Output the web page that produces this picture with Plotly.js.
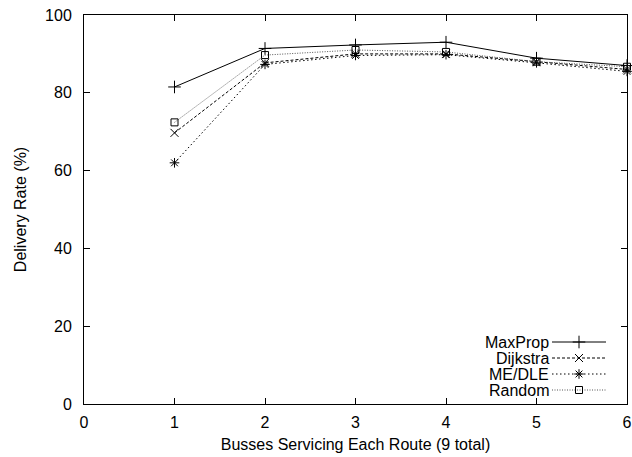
<!DOCTYPE html>
<html>
<head>
<meta charset="utf-8">
<script src="https://cdn.plot.ly/plotly-3.0.1.min.js"></script>
<style>
  html, body { margin: 0; padding: 0; background: #fff; }
  #chart { width: 632px; height: 457px; }
</style>
</head>
<body>
<div id="chart"></div>
<script>
// Busses per route (x) and delivery rate in percent for each routing scheme
const busses = [1, 2, 3, 4, 5, 6];
const seriesNames = ['MaxProp', 'Dijkstra', 'ME/DLE', 'Random'];
const maxProp  = [81.5, 91.4, 92.3, 93.0, 88.9, 87.0];
const dijkstra = [69.7, 87.7, 90.0, 90.0, 88.0, 86.0];
const meDle    = [62.0, 87.3, 89.6, 89.8, 87.7, 85.5];
const random   = [72.4, 89.7, 91.0, 90.5, 88.0, 86.7];

const FONT = 'Liberation Sans, Arial, Helvetica, sans-serif';
const styles = [
  { dash: 'solid',       color: '#000', symbol: 'cross-thin-open', size: 9 },
  { dash: '3px,2px',     color: '#000', symbol: 'x-thin-open',     size: 8 },
  { dash: '1.5px,2.5px', color: '#000', symbol: 'asterisk-open',   size: 8 },
  { dash: '1px,1.5px',   color: '#555', symbol: 'square-open',     size: 7 }
];
const values = [maxProp, dijkstra, meDle, random];
const legendIds = ['legend', 'legend2', 'legend3', 'legend4'];

const traces = values.map((ys, i) => ({
  x: busses,
  y: ys,
  type: 'scatter',
  mode: 'lines+markers',
  name: '',
  legend: legendIds[i],
  line: { color: styles[i].color, width: 1, dash: styles[i].dash },
  marker: { symbol: styles[i].symbol, size: styles[i].size, color: '#000',
            line: { color: '#000', width: 1 } },
  cliponaxis: false
}));

// Gnuplot-style key in the lower right: label on the left, line sample on the right
const plotTop = 15, plotBottom = 404, plotLeft = 84, plotRight = 627;
const keyRowsPx = [342, 358, 374, 390];
const toPaperY = py => (plotBottom - py) / (plotBottom - plotTop);
const toPaperX = px => (px - plotLeft) / (plotRight - plotLeft);

const annotations = seriesNames.map((n, i) => ({
  text: n,
  xref: 'paper', yref: 'paper',
  x: toPaperX(551), y: toPaperY(keyRowsPx[i]),
  xanchor: 'right', yanchor: 'middle',
  showarrow: false,
  font: { family: FONT, size: 16, color: '#000' }
}));

const layout = {
  width: 632, height: 457,
  margin: { l: plotLeft, r: 632 - plotRight, t: plotTop, b: 457 - plotBottom },
  paper_bgcolor: '#fff', plot_bgcolor: '#fff',
  showlegend: true,
  xaxis: {
    range: [0, 6], dtick: 1, tick0: 0,
    showgrid: false, zeroline: false,
    showline: true, linecolor: '#000', linewidth: 1, mirror: 'ticks',
    ticks: 'inside', ticklen: 6, tickcolor: '#000', tickwidth: 1,
    ticklabelstandoff: 4,
    tickfont: { family: FONT, size: 16, color: '#000' },
    title: { text: 'Busses Servicing Each Route (9 total)', standoff: 8,
             font: { family: FONT, size: 16, color: '#000' } }
  },
  yaxis: {
    range: [0, 100], dtick: 20, tick0: 0,
    showgrid: false, zeroline: false,
    showline: true, linecolor: '#000', linewidth: 1, mirror: 'ticks',
    ticks: 'inside', ticklen: 6, tickcolor: '#000', tickwidth: 1,
    ticklabelstandoff: 8,
    tickfont: { family: FONT, size: 16, color: '#000' },
    title: { text: 'Delivery Rate (%)', standoff: 14,
             font: { family: FONT, size: 16, color: '#000' } }
  },
  annotations: annotations
};

legendIds.forEach((id, i) => {
  layout[id] = {
    x: toPaperX(547), y: toPaperY(keyRowsPx[i]),
    xanchor: 'left', yanchor: 'middle',
    bgcolor: 'rgba(0,0,0,0)', borderwidth: 0,
    itemwidth: 54,
    font: { family: FONT, size: 10, color: '#000' }
  };
});

Plotly.newPlot('chart', traces, layout, { staticPlot: true, displayModeBar: false });
</script>
</body>
</html>
